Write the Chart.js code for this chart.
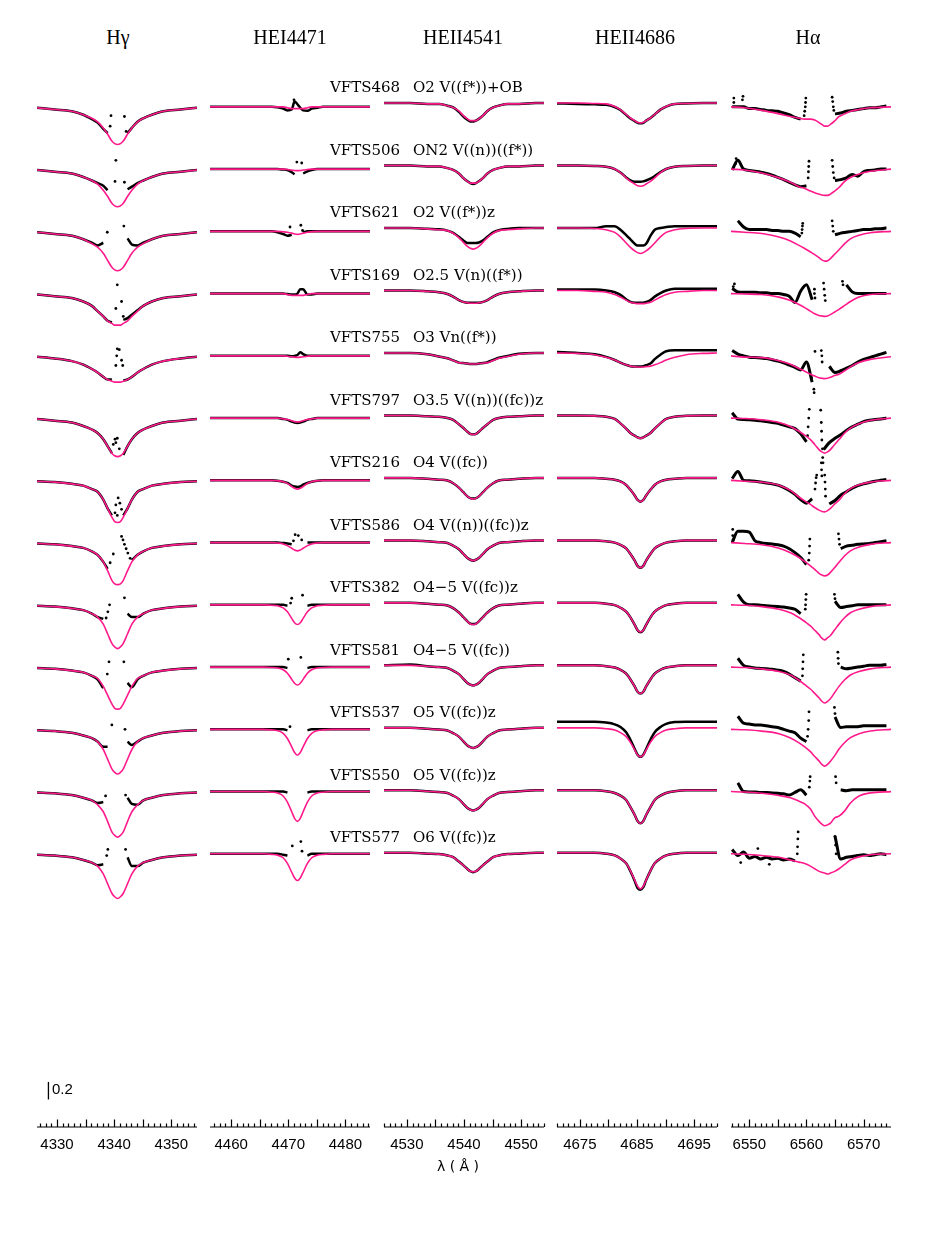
<!DOCTYPE html>
<html>
<head>
<meta charset="utf-8">
<script src="https://cdn.jsdelivr.net/npm/chart.js@4.4.0/dist/chart.umd.min.js"></script>
<style>
  body { margin: 0; background: #fff; }
  #page { position: relative; width: 926px; height: 1252px; overflow: hidden; background: #fff; }
  #page canvas { position: absolute; top: 60px; }
  .title { position: absolute; top: 27px; font: 20px "Liberation Serif", serif; line-height: 20px; transform: translateX(-50%); white-space: nowrap; }
  .star, .sptype { position: absolute; font: 15px "DejaVu Serif", serif; line-height: 18px; white-space: nowrap; }
  .note { position: absolute; font: 15px "Liberation Sans", sans-serif; line-height: 16px; white-space: nowrap; }
</style>
</head>
<body>
<div id="page"></div>
<script>
// Spectral line fits, 13 stars x 5 lines (observed = black, model = magenta)

const panelTitles = ["Hγ", "HEI4471", "HEII4541", "HEII4686", "Hα"]
const starNames = ["VFTS468", "VFTS506", "VFTS621", "VFTS169", "VFTS755", "VFTS797", "VFTS216",
  "VFTS586", "VFTS382", "VFTS581", "VFTS537", "VFTS550", "VFTS577"]
const spTypes = ["O2 V((f*))+OB", "ON2 V((n))((f*))", "O2 V((f*))z", "O2.5 V(n)((f*))", "O3 Vn((f*))",
  "O3.5 V((n))((fc))z", "O4 V((fc))", "O4 V((n))((fc))z", "O4\u22125 V((fc))z", "O4\u22125 V((fc))",
  "O5 V((fc))z", "O5 V((fc))z", "O6 V((fc))z"]

// tick labels (Angstrom)
const hgTicks = [4330, 4340, 4350]
const he1Ticks = [4460, 4470, 4480]
const he41Ticks = [4530, 4540, 4550]
const he86Ticks = [4675, 4685, 4695]
const haTicks = [6550, 6560, 6570]

// wavelength samples
const hgWave = [4326.5, 4329.6, 4332.6, 4334.6, 4336.1, 4337.1, 4338.1, 4338.85, 4339.6, 4340.1, 4340.6, 4341.1, 4341.6, 4342.35, 4343.1, 4344.1, 4345.1, 4346.6, 4348.6, 4351.6, 4354.5]
const he1Wave = [4456.3, 4460.6, 4463.6, 4465.6, 4467.1, 4468.1, 4469.1, 4469.85, 4470.6, 4471.1, 4471.6, 4472.1, 4472.6, 4473.35, 4474.1, 4475.1, 4476.1, 4477.6, 4479.6, 4482.6, 4484.3]
const he41Wave = [4526, 4530.6, 4533.6, 4535.6, 4537.1, 4538.1, 4539.1, 4539.85, 4540.6, 4541.1, 4541.6, 4542.1, 4542.6, 4543.35, 4544.1, 4545.1, 4546.1, 4547.6, 4549.6, 4552.6, 4554]
const he86Wave = [4671, 4674.6, 4677.6, 4679.6, 4681.1, 4682.1, 4683.1, 4683.85, 4684.6, 4685.1, 4685.6, 4686.1, 4686.6, 4687.35, 4688.1, 4689.1, 4690.1, 4691.6, 4693.6, 4696.6, 4699]
const haWave = [6546.8, 6549.2, 6552.2, 6555.2, 6557.2, 6558.7, 6559.7, 6560.7, 6561.45, 6562.2, 6562.7, 6563.2, 6563.7, 6564.2, 6564.95, 6565.7, 6566.7, 6567.7, 6569.2, 6571.2, 6574.8]
const haObsWave = [6547, 6548, 6549, 6550, 6551, 6552, 6553, 6554, 6555, 6556, 6557, 6558, 6559, 6560, 6561, 6562, 6563, 6564, 6565, 6566, 6567, 6568, 6569, 6570, 6571, 6572, 6573, 6574]

// ---- H gamma ----
const hgModel = [
  [.99,.97,.95,.91,.87,.83,.76,.69,.61,.58,.57,.58,.61,.69,.76,.83,.87,.91,.95,.97,.99],
  [.99,.97,.95,.91,.87,.83,.76,.69,.61,.58,.57,.58,.61,.69,.76,.83,.87,.91,.95,.97,.99],
  [.99,.97,.95,.91,.86,.82,.75,.67,.59,.56,.55,.56,.59,.67,.75,.82,.86,.91,.95,.97,.99],
  [.99,.97,.95,.91,.86,.80,.74,.69,.66,.64,.64,.64,.66,.69,.74,.80,.86,.91,.95,.97,.99],
  [.99,.97,.94,.90,.85,.81,.76,.73,.71,.70,.70,.70,.71,.73,.76,.81,.85,.90,.94,.97,.99],
  [.99,.97,.95,.91,.87,.83,.76,.68,.60,.57,.56,.57,.60,.68,.76,.83,.87,.91,.95,.97,.99],
  [.99,.98,.96,.94,.90,.87,.78,.68,.58,.53,.52,.53,.58,.68,.78,.87,.90,.94,.96,.98,.99],
  [.99,.98,.96,.94,.90,.86,.78,.68,.57,.53,.52,.53,.57,.68,.78,.86,.90,.94,.96,.98,.99],
  [.99,.98,.96,.94,.90,.86,.78,.67,.56,.52,.50,.52,.56,.67,.78,.86,.90,.94,.96,.98,.99],
  [.99,.98,.96,.94,.90,.87,.78,.68,.58,.53,.52,.53,.58,.68,.78,.87,.90,.94,.96,.98,.99],
  [.99,.98,.96,.93,.90,.86,.77,.66,.55,.51,.49,.51,.55,.66,.77,.86,.90,.93,.96,.98,.99],
  [.99,.98,.96,.93,.90,.85,.77,.66,.54,.50,.48,.50,.54,.66,.77,.85,.90,.93,.96,.98,.99],
  [.99,.98,.96,.93,.90,.86,.77,.66,.55,.51,.49,.51,.55,.66,.77,.86,.90,.93,.96,.98,.99]
]
const hgObs = [
  [.99,.97,.95,.91,.86,.82,.75,.70,null,null,null,null,null,.70,.76,.83,.87,.91,.95,.97,.99],
  [.99,.97,.95,.91,.87,.84,.81,.76,null,null,null,null,null,.77,.80,.84,.87,.91,.95,.97,.99],
  [.99,.97,.95,.91,.87,.84,.87,null,null,null,null,null,null,.92,.85,.84,.87,.91,.95,.97,.99],
  [.99,.97,.95,.91,.86,.80,.74,.69,.67,null,null,null,.70,.72,.76,.81,.86,.91,.95,.97,.99],
  [.99,.97,.94,.90,.85,.81,.76,.73,.73,null,null,null,.72,.73,.76,.81,.85,.90,.94,.97,.99],
  [.99,.97,.95,.91,.87,.83,.76,.68,.60,null,null,null,.58,.68,.76,.83,.87,.91,.95,.97,.99],
  [.99,.98,.96,.94,.90,.87,.78,.68,.60,null,null,null,.60,.68,.78,.87,.90,.94,.96,.98,.99],
  [.99,.98,.96,.94,.90,.86,.78,.70,null,null,null,null,null,null,.80,.86,.90,.94,.96,.98,.99],
  [.99,.98,.96,.94,.90,.86,.84,null,null,null,null,null,null,.90,.86,.86,.90,.94,.96,.98,.99],
  [.99,.98,.96,.94,.90,.86,.76,null,null,null,null,null,null,.82,.77,.86,.90,.94,.96,.98,.99],
  [.99,.98,.96,.93,.90,.86,.80,.80,null,null,null,null,null,.86,.82,.86,.90,.93,.96,.98,.99],
  [.99,.98,.96,.93,.90,.87,.88,null,null,null,null,null,null,.93,.86,.85,.90,.93,.96,.98,.99],
  [.99,.98,.96,.93,.90,.87,.88,null,null,null,null,null,null,.96,.86,.86,.90,.93,.96,.98,.99]
]
const hgDots = [
  [[4339.45,.90],[4339.3,.78],[4341.8,.89],[4342.1,.72]],
  [[4340.3,1.10],[4340.15,.86],[4341.8,.85]],
  [[4338.8,.99],[4341.7,1.06]],
  [[4340.55,1.10],[4341.3,.91],[4340.3,.83],[4341.6,.74]],
  [[4340.55,1.08],[4340.9,1.07],[4341.3,.95],[4340.45,1.0],[4340.3,.89],[4341.5,.89]],
  [[4340.15,.76],[4340.55,.77],[4339.85,.70],[4340.9,.65],[4340.3,.72]],
  [[4340.7,.80],[4341.0,.74],[4340.3,.72],[4341.3,.67],[4340.55,.60],[4340.15,.63]],
  [[4339.85,.87],[4339.3,.77],[4341.3,1.07],[4341.55,1.03],[4341.8,.98],[4342.1,.93],[4342.4,.88],[4342.8,.82]],
  [[4339.2,1.0],[4338.9,.92],[4341.8,1.08],[4338.6,.85]],
  [[4339.1,1.06],[4338.8,.92],[4341.7,1.06]],
  [[4339.6,1.05],[4341.9,1.0]],
  [[4338.5,.95],[4342.0,.96]],
  [[4338.9,1.05],[4338.7,.98],[4342.0,1.05]]
]

// ---- He I 4471 ----
const he1Model = [
  [1,1,1,1,1,1,1,.99,.98,.98,.98,.98,.98,.99,1,1,1,1,1,1,1],
  [1,1,1,1,1,1,1,.995,.99,.985,.983,.985,.99,.995,1,1,1,1,1,1,1],
  [1,1,1,1,1,1,.995,.99,.98,.97,.966,.97,.98,.99,.995,1,1,1,1,1,1],
  [1,1,1,1,1,1,1,.99,.98,.98,.98,.98,.98,.99,1,1,1,1,1,1,1],
  [1,1,1,1,1,1,1,.995,.99,.985,.983,.985,.99,.995,1,1,1,1,1,1,1],
  [1,1,1,1,1,1,.99,.985,.97,.96,.955,.96,.97,.985,.99,1,1,1,1,1,1],
  [1,1,1,1,1,.995,.985,.965,.93,.91,.90,.91,.93,.965,.985,.995,1,1,1,1,1],
  [1,1,1,1,1,.995,.985,.965,.935,.915,.905,.915,.935,.965,.985,.995,1,1,1,1,1],
  [1,1,1,1,.995,.99,.965,.92,.845,.795,.775,.795,.845,.92,.965,.99,.995,1,1,1,1],
  [1,1,1,1,.996,.99,.97,.93,.86,.815,.795,.815,.86,.93,.97,.99,.996,1,1,1,1],
  [1,1,1,1,.994,.985,.955,.895,.80,.735,.705,.735,.80,.895,.955,.985,.994,1,1,1,1],
  [1,1,1,1,.993,.983,.95,.88,.77,.695,.66,.695,.77,.88,.95,.983,.993,1,1,1,1],
  [1,1,1,1,.994,.985,.955,.89,.79,.725,.695,.725,.79,.89,.955,.985,.994,1,1,1,1]
]
const he1Obs = [
  [1,1,1,1,1,.995,.98,.96,.97,1.06,1.03,.99,.96,.955,.98,.99,1,1,1,1,1],
  [1,1,1,1,1,1,.995,.99,.965,.94,null,null,.95,.975,.99,1,1,1,1,1,1],
  [1,1,1,1,1,.99,.97,.95,.96,null,null,null,.99,1,1,1,1,1,1,1,1],
  [1,1,1,1,1,1,1,.995,.99,.99,1.0,1.05,1.05,.99,.99,1,1,1,1,1,1],
  [1,1,1,1,1,1,1,1,.995,1,1.01,1.04,1.02,1,1,1,1,1,1,1,1],
  [1,1,1,1,1,1,.99,.98,.96,.95,.945,.95,.96,.98,.99,1,1,1,1,1,1],
  [1,1,1,1,1,.995,.985,.97,.94,.93,.925,.93,.95,.97,.985,.995,1,1,1,1,1],
  [1,1,1,1,1,1,.995,.99,.98,null,null,null,null,1.0,1.0,1,1,1,1,1,1],
  [1,1,1,1,1,1,1,.99,null,null,null,null,null,.99,1,1,1,1,1,1,1],
  [1,1,1,1,1,1,1,.99,null,null,null,null,null,.99,1,1,1,1,1,1,1],
  [1,1,1,1,1,1,1,.99,null,null,null,null,null,.99,1,1,1,1,1,1,1],
  [1,1,1,1,1,1,1,.99,null,null,null,null,null,.99,1,1,1,1,1,1,1],
  [1,1,1,1,1,1,.99,.98,null,null,null,null,null,.98,1,1,1,1,1,1,1]
]
const he1Dots = [
  [[4471.0,1.08]],
  [[4471.5,1.08],[4472.35,1.07]],
  [[4470.3,1.05],[4472.2,1.07],[4472.5,1.01]],
  [], [], [], [],
  [[4471.2,1.09],[4471.75,1.08],[4470.9,1.02],[4472.35,1.03]],
  [[4470.6,1.075],[4472.5,1.11],[4470.4,1.02]],
  [[4470.0,1.09],[4472.2,1.11]],
  [[4470.3,1.03]],
  [],
  [[4470.7,1.09],[4472.2,1.14],[4472.4,1.03]]
]

// ---- He II 4541 ----
const he41Model = [
  [1,1,.99,.99,.97,.95,.91,.86,.82,.80,.80,.80,.82,.86,.91,.95,.97,.99,.99,1,1],
  [1,1,.99,.99,.97,.95,.91,.86,.82,.80,.80,.80,.82,.86,.91,.95,.97,.99,.99,1,1],
  [1,1,.99,.98,.97,.94,.89,.84,.79,.77,.76,.77,.79,.84,.89,.94,.97,.98,.99,1,1],
  [1,1,.99,.98,.96,.93,.89,.87,.86,.855,.855,.855,.86,.87,.89,.93,.96,.98,.99,1,1],
  [1,1,.985,.96,.94,.915,.89,.885,.88,.875,.875,.875,.88,.885,.89,.915,.94,.96,.985,1,1],
  [1,1,.99,.985,.97,.95,.90,.86,.815,.79,.785,.79,.815,.86,.90,.95,.97,.985,.99,1,1],
  [1,1,.99,.98,.97,.94,.89,.84,.79,.77,.76,.77,.79,.84,.89,.94,.97,.98,.99,1,1],
  [1,1,.99,.98,.97,.94,.90,.85,.80,.78,.77,.78,.80,.85,.90,.94,.97,.98,.99,1,1],
  [1,1,.99,.98,.97,.94,.89,.84,.79,.76,.755,.76,.79,.84,.89,.94,.97,.98,.99,1,1],
  [1,1,.99,.98,.97,.94,.90,.85,.80,.78,.77,.78,.80,.85,.90,.94,.97,.98,.99,1,1],
  [1,1,.99,.98,.97,.94,.90,.85,.80,.78,.77,.78,.80,.85,.90,.94,.97,.98,.99,1,1],
  [1,1,.99,.98,.97,.94,.90,.85,.80,.78,.77,.78,.80,.85,.90,.94,.97,.98,.99,1,1],
  [1,1,.99,.985,.97,.95,.90,.86,.815,.79,.785,.79,.815,.86,.90,.95,.97,.985,.99,1,1]
]
const he41Obs = [
  [1,1,.99,.99,.97,.95,.90,.85,.81,.79,.79,.80,.82,.86,.91,.95,.97,.99,.99,1,1],
  [1,1,.99,.99,.97,.95,.91,.86,.82,.80,.79,.80,.82,.86,.91,.95,.97,.99,.99,1,1],
  [1,1,.99,.985,.97,.945,.90,.86,.83,.83,.83,.83,.835,.86,.90,.95,.975,.99,1,1,1],
  [1,1,.99,.98,.96,.93,.89,.87,.86,.86,.86,.86,.86,.87,.89,.93,.96,.98,.99,1,1],
  [1,1,.985,.96,.94,.915,.89,.885,.88,.875,.875,.875,.88,.885,.895,.92,.945,.965,.99,1,1],
  [1,1,.99,.985,.97,.95,.90,.86,.815,.79,.785,.79,.815,.86,.90,.95,.97,.985,.99,1,1],
  [1,1,.99,.98,.97,.94,.89,.84,.79,.77,.765,.77,.79,.84,.89,.94,.97,.98,.99,1,1],
  [1,1,.99,.98,.97,.94,.90,.85,.80,.78,.77,.78,.80,.85,.90,.94,.97,.98,.99,1,1],
  [1,1,.99,.98,.97,.94,.89,.84,.79,.765,.76,.765,.79,.84,.89,.94,.97,.98,.99,1,1],
  [1,1.01,.99,.98,.97,.94,.90,.85,.80,.78,.77,.78,.80,.85,.90,.94,.97,.98,.99,1,1],
  [1,1,.99,.98,.97,.94,.90,.85,.80,.78,.77,.78,.80,.85,.90,.94,.97,.98,.99,1,1],
  [1,1,.99,.98,.97,.94,.90,.85,.80,.78,.77,.78,.80,.85,.90,.94,.97,.98,.99,1,1],
  [1,1,.99,.985,.97,.95,.90,.86,.815,.79,.78,.79,.815,.86,.90,.95,.97,.985,.99,1,1]
]

// ---- He II 4686 ----
const he86Model = [
  [1,1,.995,.99,.96,.925,.87,.83,.80,.78,.775,.78,.80,.83,.87,.925,.96,.99,.995,1,1],
  [1,1,.995,.985,.96,.92,.86,.82,.79,.77,.765,.77,.79,.82,.86,.92,.96,.985,.995,1,1],
  [1,1,.995,.98,.95,.90,.83,.78,.74,.72,.71,.72,.74,.78,.83,.90,.95,.98,.995,1,1],
  [1,1,.99,.98,.955,.925,.89,.865,.855,.85,.85,.85,.855,.865,.89,.925,.955,.98,.99,1,1],
  [1,.995,.98,.95,.92,.89,.865,.85,.845,.84,.84,.84,.845,.85,.865,.89,.92,.95,.98,.995,1],
  [1,1,.995,.985,.96,.91,.85,.80,.77,.75,.74,.75,.77,.80,.85,.91,.96,.985,.995,1,1],
  [1,1,1,.99,.98,.96,.92,.865,.80,.75,.73,.75,.80,.865,.92,.96,.98,.99,1,1,1],
  [1,1,1,.99,.975,.95,.91,.845,.77,.71,.69,.71,.77,.845,.91,.95,.975,.99,1,1,1],
  [1,1,1,.99,.975,.945,.90,.835,.75,.69,.67,.69,.75,.835,.90,.945,.975,.99,1,1,1],
  [1,1,1,.99,.975,.95,.905,.84,.76,.70,.68,.70,.76,.84,.905,.95,.975,.99,1,1,1],
  [1,1,1,.99,.975,.945,.90,.835,.75,.69,.67,.69,.75,.835,.90,.945,.975,.99,1,1,1],
  [1,1,1,.99,.97,.94,.89,.81,.72,.65,.625,.65,.72,.81,.89,.94,.97,.99,1,1,1],
  [1,1,1,.99,.97,.935,.88,.795,.69,.62,.59,.62,.69,.795,.88,.935,.97,.99,1,1,1]
]
const he86Obs = [
  [.995,.99,.985,.98,.955,.92,.865,.825,.795,.775,.77,.775,.80,.83,.87,.925,.96,.99,.995,1,1],
  [1,1,.995,.985,.96,.92,.865,.83,.815,.815,.815,.82,.83,.85,.88,.925,.96,.985,.995,1,1],
  [1,1,1,1.02,1.02,.98,.92,.87,.82,.80,.80,.80,.82,.91,.98,1.0,1.01,1.02,1.02,1.02,1.02],
  [1.01,1.01,1.01,1.0,.98,.95,.90,.87,.86,.86,.86,.86,.87,.89,.93,.97,1.0,1.02,1.02,1.02,1.02],
  [1.01,1.0,.985,.955,.92,.89,.865,.85,.845,.845,.845,.85,.86,.88,.93,.98,1.02,1.03,1.03,1.03,1.03],
  [1,1,.995,.985,.96,.91,.85,.80,.77,.75,.74,.75,.77,.80,.85,.91,.96,.985,.995,1,1],
  [1,1,1,.99,.98,.96,.92,.865,.80,.75,.73,.75,.80,.865,.92,.96,.98,.99,1,1,1],
  [1,1,1,.99,.975,.95,.91,.845,.77,.71,.69,.71,.77,.845,.91,.95,.975,.99,1,1,1],
  [1,1,1,.99,.975,.945,.90,.835,.75,.69,.665,.69,.75,.835,.90,.945,.975,.99,1,1,1],
  [1,1,1,.99,.975,.95,.905,.84,.76,.70,.68,.70,.76,.84,.905,.95,.975,.99,1,1,1],
  [1.07,1.07,1.07,1.06,1.04,1.01,.95,.865,.76,.695,.67,.695,.76,.865,.95,1.01,1.045,1.065,1.07,1.07,1.07],
  [1,1,1,.99,.97,.94,.89,.81,.72,.65,.625,.65,.72,.81,.89,.94,.97,.99,1,1,1],
  [1,1,1,.99,.97,.935,.88,.79,.68,.60,.58,.61,.69,.795,.88,.935,.97,.99,1,1,1]
]

// ---- H alpha ----
const haModel = [
  [1,.99,.96,.92,.89,.87,.86,.86,.85,.82,.80,.78,.78,.80,.84,.89,.92,.95,.97,.99,1],
  [1,.99,.955,.90,.85,.80,.78,.75,.73,.715,.705,.70,.70,.715,.75,.79,.86,.905,.945,.975,1],
  [1,.99,.975,.935,.89,.84,.805,.765,.735,.70,.675,.66,.665,.69,.74,.79,.86,.915,.955,.985,1],
  [1,.995,.99,.96,.92,.875,.84,.80,.77,.75,.745,.74,.745,.76,.79,.82,.865,.91,.96,.99,1],
  [1,.985,.98,.945,.905,.855,.825,.79,.77,.75,.745,.74,.745,.755,.775,.79,.83,.875,.925,.96,.99],
  [1,.995,.98,.95,.905,.85,.805,.755,.70,.64,.615,.60,.615,.64,.70,.755,.83,.885,.935,.975,1],
  [1,.99,.98,.945,.885,.81,.765,.725,.69,.66,.645,.64,.655,.68,.73,.775,.85,.905,.95,.98,1],
  [1,.99,.975,.935,.885,.83,.785,.735,.695,.65,.63,.62,.63,.66,.715,.775,.85,.905,.95,.98,1],
  [1,.995,.98,.95,.91,.855,.81,.76,.71,.66,.62,.60,.625,.65,.715,.78,.855,.91,.95,.98,1],
  [1,.995,.98,.95,.91,.85,.80,.75,.70,.65,.61,.59,.61,.64,.71,.78,.855,.91,.95,.98,1],
  [1,.995,.98,.95,.90,.845,.80,.745,.69,.64,.60,.58,.60,.635,.70,.775,.85,.905,.95,.98,1],
  [1,.995,.98,.955,.93,.89,.86,.80,.72,.66,.63,.61,.62,.64,.70,.72,.78,.87,.95,.985,1],
  [1,.995,.98,.96,.93,.905,.89,.86,.83,.80,.79,.78,.77,.78,.80,.83,.88,.93,.965,.99,1]
]
const haObs = [
  [1.0,1.0,1.0,.98,.98,.97,.96,.955,.95,.93,.91,.88,.86,null,null,null,null,null,.92,.93,.95,.96,.97,.98,.99,.99,1.0,1.01],
  [.99,1.1,1.0,.985,.975,.965,.95,.93,.905,.88,.85,.82,.80,.81,null,null,null,null,.87,.88,.90,.94,.92,.97,.985,.99,1.0,1.0],
  [null,1.12,1.05,1.02,1.02,1.02,1.02,1.01,1.01,1.0,1.0,.98,.94,null,null,null,null,null,.96,.98,.99,1.0,1.01,1.02,1.02,1.03,1.03,1.04],
  [1.06,1.02,1.015,1.015,1.015,1.01,1.01,1.0,1.0,.99,.97,.90,1.03,1.1,.93,null,null,null,null,null,1.10,1.02,1.0,1.0,1.0,1.0,1.0,1.0],
  [1.06,1.02,1.0,.985,.98,.975,.97,.955,.94,.92,.895,.87,.84,.93,.70,null,null,.88,.81,.83,.86,.89,.93,.96,.98,1.0,1.02,1.04],
  [1.06,.99,.985,.98,.975,.97,.96,.95,.94,.92,.90,.88,.82,.73,null,null,.64,.72,.77,.81,.86,.90,.93,.96,.975,.985,.99,1.0],
  [1.02,1.1,1.0,.995,.99,.98,.97,.96,.945,.92,.885,.84,.78,.74,.79,null,null,.73,.77,.83,.87,.91,.94,.96,.975,.99,1.0,1.01],
  [1.0,1.13,1.13,1.12,1.02,1.0,.99,.985,.975,.96,.93,.885,.83,.75,null,null,null,null,null,.93,.96,.97,.98,.985,.99,1.0,1.01,1.02],
  [null,1.12,1.03,1.0,1.0,.995,.99,.985,.98,.975,.965,.95,.90,null,null,null,null,null,1.04,.97,.98,.99,1.0,1.0,1.0,1.0,1.0,1.0],
  [null,1.1,1.02,1.0,.99,.985,.98,.975,.965,.95,.92,.88,.84,null,null,null,null,null,null,1.0,.98,.99,1.0,1.01,1.02,1.02,1.02,1.03],
  [null,1.15,1.07,1.06,1.05,1.05,1.04,1.03,1.02,1.0,.98,.96,.90,.86,null,null,null,null,1.14,1.02,1.03,1.03,1.03,1.04,1.04,1.04,1.04,1.04],
  [null,1.1,1.0,.995,.995,.99,.99,.985,.98,.975,.96,.99,1.02,.96,null,null,null,null,null,1.02,1.01,1.02,1.02,1.02,1.02,1.02,1.02,1.02],
  [1.05,.98,1.02,.95,.97,.94,.96,.94,.95,.93,.94,.92,null,null,null,null,null,null,1.2,.94,.96,.97,.98,.99,.98,.99,1.0,.99]
]
const haDots = [
  [[6547.3,1.05],[6547.3,1.1],[6548.8,1.08],[6548.9,1.12],[6559.6,.90],[6559.7,.95],[6559.8,1.0],[6559.85,1.05],[6559.9,1.1],[6564.5,1.11],[6564.6,1.06],[6564.7,1.0],[6564.8,.96]],
  [[6547.6,1.06],[6547.7,1.12],[6560.3,.9],[6560.35,.97],[6560.4,1.03],[6560.45,1.09],[6564.5,1.10],[6564.6,1.03],[6564.7,.96],[6564.85,.90]],
  [[6559.2,.98],[6559.25,1.02],[6559.3,1.06],[6559.35,1.09],[6564.5,1.12],[6564.6,1.06],[6564.7,1.0]],
  [[6547.2,1.08],[6547.4,1.11],[6561.4,1.05],[6561.4,1.0],[6561.5,.95],[6563.0,1.12],[6563.1,1.05],[6563.2,.98],[6563.3,.92],[6566.3,1.14],[6566.4,1.1]],
  [[6561.3,.62],[6561.35,.58],[6561.5,1.05],[6562.6,1.06],[6562.7,1.0],[6562.75,.93],[6560.9,.75]],
  [[6560.2,.80],[6560.3,.90],[6560.4,1.0],[6560.5,1.1],[6562.5,1.09],[6562.6,.95],[6562.65,.85],[6562.7,.75],[6562.8,.65],[6562.85,.55],[6562.9,.49]],
  [[6561.5,.9],[6561.6,.97],[6561.7,1.03],[6561.8,1.06],[6562.6,1.2],[6562.65,1.12],[6562.7,1.05],[6563.2,1.06],[6563.25,.98],[6563.3,.9],[6563.35,.82]],
  [[6547.1,1.15],[6547.1,1.08],[6547.15,1.03],[6560.4,.8],[6560.5,.88],[6560.55,.96],[6560.6,1.04],[6565.6,1.10],[6565.7,1.04],[6565.8,.98]],
  [[6559.8,.95],[6559.85,1.0],[6559.9,1.06],[6559.95,1.12],[6564.9,1.12],[6565.0,1.07]],
  [[6559.3,.9],[6559.35,.98],[6559.4,1.06],[6559.45,1.14],[6565.5,1.17],[6565.55,1.1],[6565.6,1.04]],
  [[6560.2,.92],[6560.3,1.0],[6560.4,1.1],[6560.45,1.2],[6564.9,1.25],[6565.0,1.18]],
  [[6560.5,1.05],[6560.6,1.12],[6560.65,1.17],[6565.1,1.17],[6565.2,1.1]],
  [[6558.4,1.0],[6558.45,1.08],[6558.5,1.17],[6558.55,1.25],[6565.0,1.2],[6565.1,1.1],[6565.2,1.0],[6548.5,.9],[6551.5,1.06],[6553.5,.88]]
]

// 0.2 flux scale bar, drawn in the H gamma panel
const scaleBarX = [4328.5, 4328.5]
const scaleBarY = [-10.122, -10.322]

// layout
const rowStep = 0.71        // vertical offset between stars (flux units)
const yMin = -10.636, yMax = 1.489
const pink = "#ff1a8c"

const panels = [
  { left: 37,  min: 4326.5, max: 4354.5, ticks: hgTicks,   wave: hgWave,   model: hgModel,   obsWave: hgWave,    obs: hgObs,   dots: hgDots,  obsWidth: 2.5 },
  { left: 210, min: 4456.3, max: 4484.3, ticks: he1Ticks,  wave: he1Wave,  model: he1Model,  obsWave: he1Wave,   obs: he1Obs,  dots: he1Dots, obsWidth: 2.5 },
  { left: 384, min: 4526,   max: 4554,   ticks: he41Ticks, wave: he41Wave, model: he41Model, obsWave: he41Wave,  obs: he41Obs, dots: null,    obsWidth: 2.5 },
  { left: 557, min: 4671,   max: 4699,   ticks: he86Ticks, wave: he86Wave, model: he86Model, obsWave: he86Wave,  obs: he86Obs, dots: null,    obsWidth: 2.5 },
  { left: 731, min: 6546.8, max: 6574.8, ticks: haTicks,   wave: haWave,   model: haModel,   obsWave: haObsWave, obs: haObs,   dots: haDots,  obsWidth: 3.0 }
]

// ticks pointing up from the axis line, every 1 A, longer every 5 A
const inwardTicks = {
  id: "inwardTicks",
  afterDraw(chart) {
    const xs = chart.scales.x
    const area = chart.chartArea
    const ctx = chart.ctx
    ctx.save()
    ctx.strokeStyle = "#000"
    ctx.lineWidth = 1.2
    ctx.beginPath()
    ctx.moveTo(area.left, area.bottom)
    ctx.lineTo(area.right, area.bottom)
    for (let w = Math.ceil(xs.min); w <= xs.max; w++) {
      const px = Math.round(xs.getPixelForValue(w)) + 0.5
      const len = w % 5 === 0 ? 7.5 : 3.5
      ctx.moveTo(px, area.bottom)
      ctx.lineTo(px, area.bottom - len)
    }
    ctx.stroke()
    ctx.restore()
  }
}

function toPoints(xs, ys, shift) {
  return xs.map((x, i) => ({ x: x, y: ys[i] === null ? null : ys[i] - shift }))
}

const page = document.getElementById("page")

panels.forEach((p, k) => {
  const datasets = []
  starNames.forEach((name, r) => {
    const shift = r * rowStep
    datasets.push({ data: toPoints(p.wave, p.model[r], shift), borderColor: pink, borderWidth: 1.6, order: 0 })
    datasets.push({ data: toPoints(p.obsWave, p.obs[r], shift), borderColor: "#000", borderWidth: p.obsWidth, order: 1 })
    const dots = p.dots ? p.dots[r] : []
    if (dots.length) {
      datasets.push({
        data: dots.map(d => ({ x: d[0], y: d[1] - shift })),
        showLine: false, pointRadius: 1.4, pointBackgroundColor: "#000", pointBorderWidth: 0, order: 2
      })
    }
  })
  if (k === 0) {
    datasets.push({ data: toPoints(scaleBarX, scaleBarY, 0), borderColor: "#000", borderWidth: 1.3, tension: 0, order: 0 })
  }

  const canvas = document.createElement("canvas")
  canvas.width = 180
  canvas.height = 1107
  canvas.style.left = (p.left - 10) + "px"
  page.appendChild(canvas)

  new Chart(canvas, {
    type: "line",
    data: { datasets },
    options: {
      responsive: false,
      animation: false,
      devicePixelRatio: 1,
      layout: { padding: { left: 10, right: 10, top: 0, bottom: 0 } },
      plugins: { legend: { display: false }, tooltip: { enabled: false } },
      elements: {
        point: { radius: 0 },
        line: { cubicInterpolationMode: "monotone", fill: false }
      },
      scales: {
        x: {
          type: "linear",
          min: p.min,
          max: p.max,
          grid: { display: false, drawTicks: false },
          border: { display: false },
          afterBuildTicks: s => { s.ticks = p.ticks.map(v => ({ value: v })) },
          afterFit: s => { s.height = 40 },
          ticks: {
            color: "#000",
            font: { family: "Liberation Sans", size: 15 },
            padding: 9,
            maxRotation: 0,
            autoSkip: false,
            callback: v => String(v)
          }
        },
        y: { display: false, min: yMin, max: yMax }
      }
    },
    plugins: [inwardTicks]
  })
})

// titles, star labels and notes as real text
const titleX = [118, 290, 463, 635, 808]
panelTitles.forEach((t, i) => {
  const d = document.createElement("div")
  d.className = "title"
  d.style.left = titleX[i] + "px"
  d.textContent = t
  page.appendChild(d)
})

starNames.forEach((name, r) => {
  const y = 103 + r * 62.5 - 16
  const a = document.createElement("div")
  a.className = "star"
  a.style.left = "330px"
  a.style.top = (y - 9) + "px"
  a.textContent = name
  page.appendChild(a)
  const b = document.createElement("div")
  b.className = "sptype"
  b.style.left = "413px"
  b.style.top = (y - 9) + "px"
  b.textContent = spTypes[r]
  page.appendChild(b)
})

const bar = document.createElement("div")
bar.className = "note"
bar.style.left = "52px"
bar.style.top = "1081px"
bar.textContent = "0.2"
page.appendChild(bar)

const xl = document.createElement("div")
xl.className = "note"
xl.style.left = "458px"
xl.style.top = "1158px"
xl.style.transform = "translateX(-50%)"
xl.style.font = "14px 'DejaVu Sans', sans-serif"
xl.textContent = "λ ( Å )"
page.appendChild(xl)
</script>
</body>
</html>
